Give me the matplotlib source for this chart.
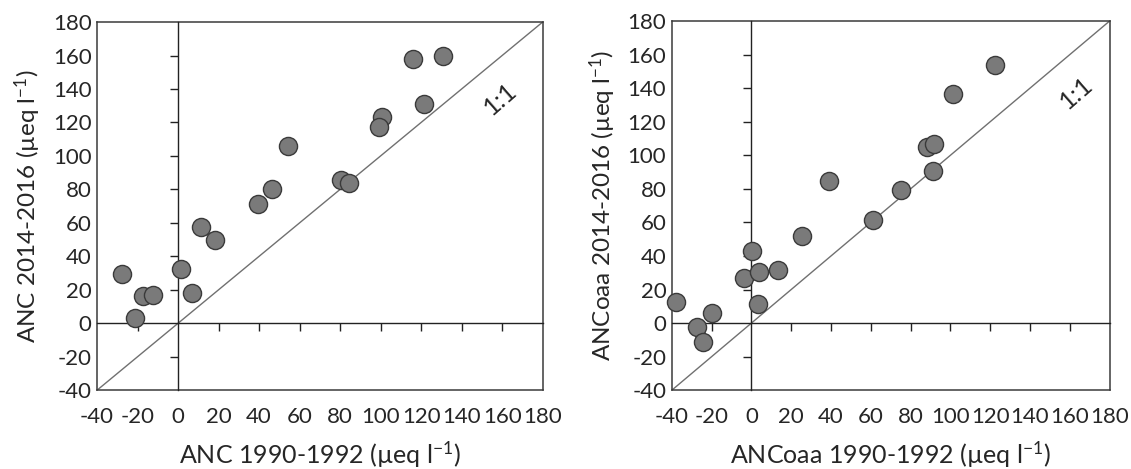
import matplotlib.pyplot as plt

plt.rcParams['font.family'] = ['Lato', 'DejaVu Sans']
plt.rcParams['mathtext.default'] = 'regular'
plt.rcParams['axes.unicode_minus'] = False

# left panel: ANC
anc_9092 = [-27.5, -21.2, -17.3, -12.4, 1.6, 6.9, 11.1, 18.3, 39.3, 46.4,
            54.2, 80.6, 84.5, 100.7, 99.2, 116.1, 121.6, 130.9]
anc_1416 = [29.2, 3.2, 16.2, 16.8, 32.6, 18.2, 57.4, 49.6, 71.2, 80.2,
            106.2, 85.6, 83.8, 123.0, 117.4, 158.0, 131.0, 160.0]

# right panel: ANCoaa
ancoaa_9092 = [-37.7, -27.4, -24.5, -19.9, -3.9, 0.2, 3.8, 3.4, 13.3, 25.5,
               39.1, 61.1, 75.1, 88.2, 91.8, 91.1, 101.5, 122.6]
ancoaa_1416 = [12.5, -2.6, -11.3, 6.0, 26.7, 43.2, 30.5, 11.1, 31.9, 51.8,
               84.6, 61.3, 79.2, 105.1, 106.5, 90.6, 136.6, 153.7]

ticks = list(range(-40, 181, 20))
lims = (-40, 180)
txtc = '#262626'

fig = plt.figure(figsize=(11.31, 4.69), dpi=100)

panels = [
    ([0.0858, 0.168, 0.394, 0.785], anc_9092, anc_1416,
     'ANC 1990-1992 (µeq l$^{-1}$)', 'ANC 2014-2016 (µeq l$^{-1}$)', (159, 134)),
    ([0.594, 0.168, 0.387, 0.787], ancoaa_9092, ancoaa_1416,
     'ANCoaa 1990-1992 (µeq l$^{-1}$)', 'ANCoaa 2014-2016 (µeq l$^{-1}$)', (163.5, 137)),
]

for rect, xs, ys, xlab, ylab, txt in panels:
    ax = fig.add_axes(rect)
    ax.set_xlim(lims)
    ax.set_ylim(lims)
    ax.set_xticks(ticks)
    ax.set_yticks(ticks)
    ax.tick_params(length=0, labelsize=16, colors=txtc)
    ax.tick_params(axis='x', pad=12)
    ax.tick_params(axis='y', pad=4)
    for s in ax.spines.values():
        s.set_color('#3a3a3a')
        s.set_linewidth(1.1)
    ax.set_xlabel(xlab, fontsize=18, color=txtc, labelpad=9)
    ax.set_ylabel(ylab, fontsize=17.5, color=txtc, labelpad=7)

    # 1:1 line
    ax.plot(lims, lims, color='#707070', lw=1.0, zorder=1)
    ax.text(txt[0], txt[1], '1:1', rotation=41, fontsize=18, color=txtc,
            ha='center', va='center')

    # overlay axes for the zero lines with ticks
    ax2 = fig.add_axes(rect, frameon=True)
    ax2.patch.set_visible(False)
    ax2.set_xlim(lims)
    ax2.set_ylim(lims)
    ax2.set_xticks([t for t in ticks if t not in (-40, 0, 180)])
    ax2.set_yticks([t for t in ticks if t not in (-40, 0, 180)])
    ax2.spines['left'].set_position(('data', 0))
    ax2.spines['bottom'].set_position(('data', 0))
    ax2.spines['top'].set_visible(False)
    ax2.spines['right'].set_visible(False)
    for k in ('left', 'bottom'):
        ax2.spines[k].set_color('#222222')
        ax2.spines[k].set_linewidth(1.0)
    ax2.tick_params(direction='out', length=6, width=1.0, color='#222222',
                    labelleft=False, labelbottom=False)

    ax2.scatter(xs, ys, s=170, color='#7a7a7a', edgecolor='#3a3a3a',
                linewidth=1.0, zorder=3, clip_on=False)

fig.savefig('out.png', dpi=100)
